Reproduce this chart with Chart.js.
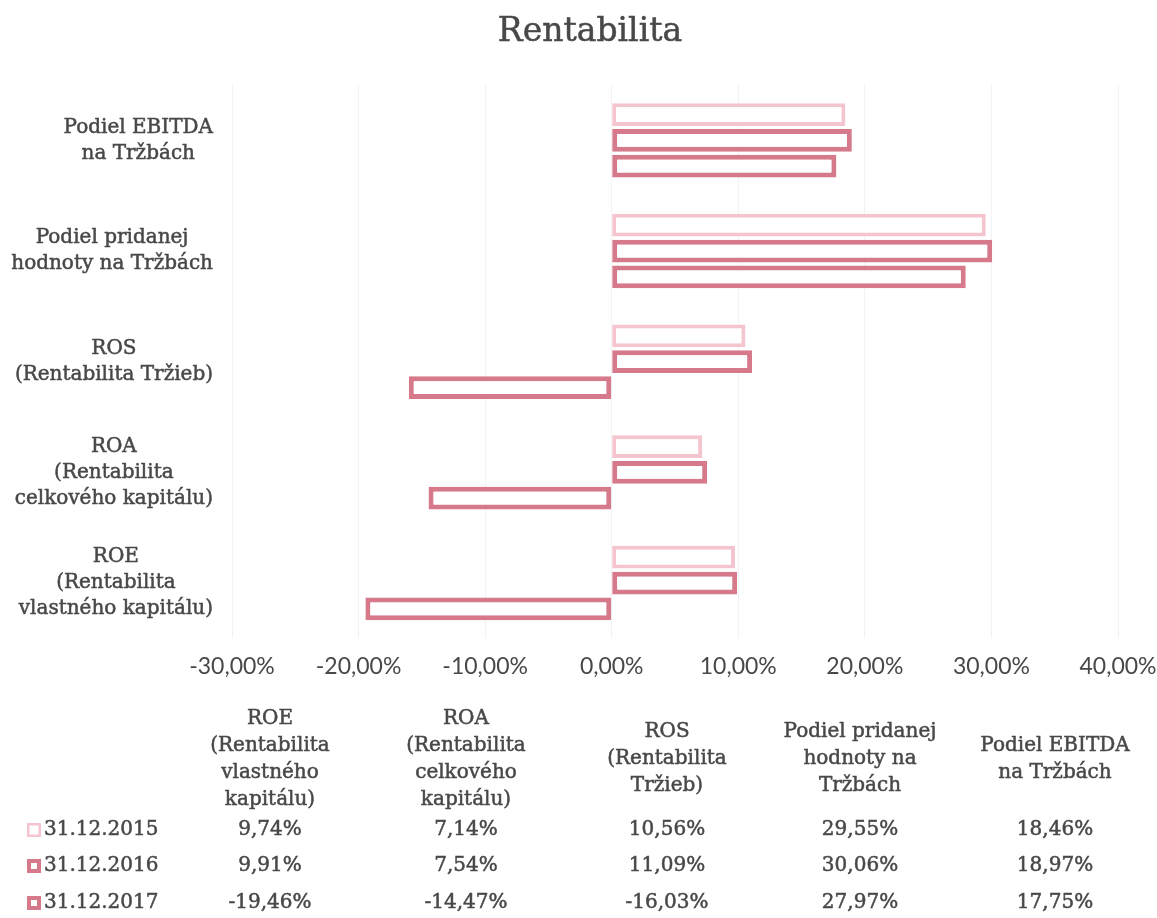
<!DOCTYPE html>
<html>
<head>
<meta charset="utf-8">
<script src="https://cdn.jsdelivr.net/npm/chart.js@4.4.1/dist/chart.umd.min.js"></script>
<style>
  html, body { margin: 0; background: #fff; }
</style>
</head>
<body>
<canvas id="rentabilita" width="1157" height="918"></canvas>
<script>
// table order (Excel category order, first = bottom of the chart)
const categories = ['ROE', 'ROA', 'ROS', 'Podiel pridanej hodnoty na Tržbách', 'Podiel EBITDA na Tržbách'];
const axisLabels = [
    ['ROE', '(Rentabilita', 'vlastného kapitálu)'],
    ['ROA', '(Rentabilita', 'celkového kapitálu)'],
    ['ROS', '(Rentabilita Tržieb)'],
    ['Podiel pridanej', 'hodnoty na Tržbách'],
    ['Podiel EBITDA', 'na Tržbách'],
];
const tableHeaders = [
    ['ROE', '(Rentabilita', 'vlastného', 'kapitálu)'],
    ['ROA', '(Rentabilita', 'celkového', 'kapitálu)'],
    ['ROS', '(Rentabilita', 'Tržieb)'],
    ['Podiel pridanej', 'hodnoty na', 'Tržbách'],
    ['Podiel EBITDA', 'na Tržbách'],
];
const seriesNames = ['31.12.2015', '31.12.2016', '31.12.2017'];
const values2015 = [9.74, 7.14, 10.56, 29.55, 18.46];
const values2016 = [9.91, 7.54, 11.09, 30.06, 18.97];
const values2017 = [-19.46, -14.47, -16.03, 27.97, 17.75];
const xMin = -30, xMax = 40, xStep = 10;

const LIGHT = '#f5c5cf';
const DARK = '#d5798b';
const TEXT = '#484848';
const SERIF = '"DejaVu Serif", serif';

const fmtPct = v => v.toFixed(2).replace('.', ',') + '%';
const rev = a => a.slice().reverse();

const series = [values2015, values2016, values2017];
const colors = [LIGHT, DARK, DARK];
const borders = [4, 5, 5];

// column centres of the data table
const colX = [270, 466, 667, 860, 1055];

// slightly heavier text, the source looks like a scanned print
function text(ctx, s, x, y) {
    ctx.fillText(s, x, y);
    ctx.strokeText(s, x, y);
}

const decorPlugin = {
    id: 'decor',
    afterDraw(chart) {
        const ctx = chart.ctx;
        const y = chart.scales.y;
        ctx.save();
        ctx.fillStyle = TEXT;
        ctx.strokeStyle = TEXT;
        ctx.lineWidth = 0.5;
        ctx.textBaseline = 'middle';

        // title
        ctx.font = '33px ' + SERIF;
        ctx.textAlign = 'center';
        text(ctx, 'Rentabilita', 590, 32);

        // category labels, lines centred in a block right-aligned to the axis
        ctx.font = '20px ' + SERIF;
        const lh = 26;
        rev(axisLabels).forEach((lines, i) => {
            const cy = y.getPixelForValue(i);
            const w = Math.max(...lines.map(l => ctx.measureText(l).width));
            const cx = 213 - w / 2;
            lines.forEach((l, j) => {
                text(ctx, l, cx, cy + (j - (lines.length - 1) / 2) * lh);
            });
        });

        // data table header
        const hl = 27;
        tableHeaders.forEach((lines, i) => {
            lines.forEach((l, j) => {
                text(ctx, l, colX[i], 759 + (j - (lines.length - 1) / 2) * hl);
            });
        });

        // data table rows with legend keys
        const rowY = [830, 866, 903];
        series.forEach((vals, s) => {
            const ry = rowY[s];
            ctx.fillStyle = colors[s];
            ctx.fillRect(27, ry - 7, 14, 14);
            ctx.fillStyle = '#fff';
            const b = s === 0 ? 2.5 : 4;
            ctx.fillRect(27 + b, ry - 7 + b, 14 - 2 * b, 14 - 2 * b);
            ctx.fillStyle = TEXT;
            ctx.textAlign = 'left';
            text(ctx, seriesNames[s], 44, ry);
            ctx.textAlign = 'center';
            vals.forEach((v, i) => text(ctx, fmtPct(v), colX[i], ry));
        });
        ctx.restore();
    },
};

new Chart(document.getElementById('rentabilita'), {
    type: 'bar',
    data: {
        labels: rev(categories),
        datasets: series.map((vals, s) => ({
            label: seriesNames[s],
            data: rev(vals),
            backgroundColor: '#fff',
            borderColor: colors[s],
            borderWidth: borders[s],
            borderSkipped: false,
            categoryPercentage: 0.70,
            barPercentage: 0.88,
        })),
    },
    options: {
        responsive: false,
        animation: false,
        indexAxis: 'y',
        layout: { padding: { left: 232, right: 39, top: 85, bottom: 236 } },
        plugins: {
            legend: { display: false },
            tooltip: { enabled: false },
            title: { display: false },
        },
        scales: {
            x: {
                min: xMin,
                max: xMax,
                grid: { color: 'rgba(0,0,0,0.05)', drawTicks: true, tickLength: 12, tickColor: 'rgba(0,0,0,0)' },
                border: { display: false },
                ticks: {
                    stepSize: xStep,
                    padding: 2,
                    color: TEXT,
                    font: { family: 'Lato, sans-serif', size: 23 },
                    callback: v => fmtPct(v),
                },
                afterFit: scale => { scale.paddingLeft = 0; scale.paddingRight = 0; },
            },
            y: { display: false },
        },
    },
    plugins: [decorPlugin],
});
</script>
</body>
</html>
